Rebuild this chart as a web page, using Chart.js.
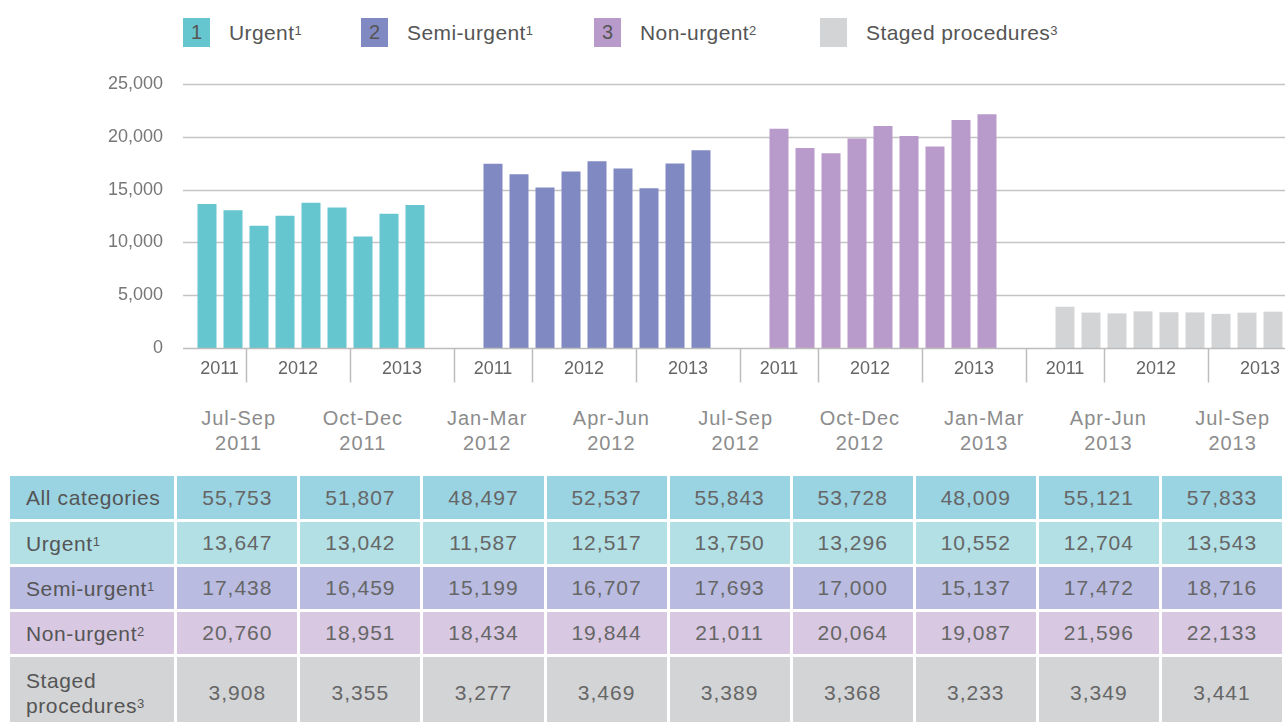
<!DOCTYPE html>
<html>
<head>
<meta charset="utf-8">
<script src="https://cdn.jsdelivr.net/npm/chart.js@4.4.1/dist/chart.umd.min.js"></script>
<style>
  html, body { margin:0; padding:0; background:#fff; overflow:hidden; width:1285px; height:722px; }
  body { font-family:"Liberation Sans", Arial, sans-serif; position:relative; }
  #legend { position:absolute; top:18px; left:0; width:1285px; height:30px; }
  .lg-item { position:absolute; top:0; display:flex; align-items:center; font-size:21px; letter-spacing:0.4px; color:#555; white-space:nowrap; }
  .lg-box { width:27px; height:29px; display:flex; align-items:center; justify-content:center; margin-right:19px; color:#555; font-size:20px; letter-spacing:0; }
  sup { font-size:13px; vertical-align:top; position:relative; top:-2px; letter-spacing:0; }
  #chartWrap { position:absolute; top:0; left:0; width:1312px; height:400px; }
  #quarters { position:absolute; top:406px; left:0; width:1400px; height:60px; }
  .q { position:absolute; width:124px; text-align:center; font-size:20px; letter-spacing:1px; line-height:25px; color:#8c8c8c; }
  #tbl { position:absolute; top:473px; left:7px; border-collapse:separate; border-spacing:3px; table-layout:fixed; }
  #tbl td { font-size:21px; letter-spacing:1px; color:#666; text-align:center; padding:0; }
  #tbl td.lbl { text-align:left; padding-left:16px; color:#555; letter-spacing:0.6px; }
</style>
</head>
<body>
<div id="legend"></div>
<div id="chartWrap"><canvas id="mainChart"></canvas></div>
<div id="quarters"></div>
<table id="tbl"></table>

<script>
// ===== DATA =====
const quarters = ['Jul-Sep 2011','Oct-Dec 2011','Jan-Mar 2012','Apr-Jun 2012','Jul-Sep 2012','Oct-Dec 2012','Jan-Mar 2013','Apr-Jun 2013','Jul-Sep 2013'];
const allCategories = [55753, 51807, 48497, 52537, 55843, 53728, 48009, 55121, 57833];
const urgent    = [13647, 13042, 11587, 12517, 13750, 13296, 10552, 12704, 13543];
const semiUrgent = [17438, 16459, 15199, 16707, 17693, 17000, 15137, 17472, 18716];
const nonUrgent = [20760, 18951, 18434, 19844, 21011, 20064, 19087, 21596, 22133];
const staged    = [3908, 3355, 3277, 3469, 3389, 3368, 3233, 3349, 3441];
const yearSpans = [['2011', 2], ['2012', 4], ['2013', 3]];   // bars per year label
const yTicks = [0, 5000, 10000, 15000, 20000, 25000];

const groups = [
  { num: '1', name: 'Urgent', sup: '1', data: urgent, color: '#66c6cf', row: '#b2e0e5', lx: 183 },
  { num: '2', name: 'Semi-urgent', sup: '1', data: semiUrgent, color: '#8189c2', row: '#b9bbe0', lx: 361 },
  { num: '3', name: 'Non-urgent', sup: '2', data: nonUrgent, color: '#b99bcb', row: '#d8c8e2', lx: 594 },
  { num: '', name: 'Staged procedures', sup: '3', data: staged, color: '#d3d4d6', row: '#d3d4d6', lx: 820 }
];

const fmt = v => v.toLocaleString('en-US');
const SLOTS = quarters.length + 2;  // gap, 9 bars, gap

// ===== LEGEND =====
document.getElementById('legend').innerHTML = groups.map(g => `
  <div class="lg-item" style="left:${g.lx}px"><div class="lg-box" style="background:${g.color}">${g.num}</div>${g.name}<sup>${g.sup}</sup></div>`).join('');

// ===== CHART =====
const labels = [];
groups.forEach(() => { labels.push(''); quarters.forEach(q => labels.push(q)); labels.push(''); });

const datasets = groups.map((g, gi) => {
  const arr = new Array(labels.length).fill(null);
  g.data.forEach((v, i) => { arr[gi * SLOTS + 1 + i] = v; });
  return { label: g.name, data: arr, backgroundColor: g.color, grouped: false,
    categoryPercentage: 1, barPercentage: 19 / 26 };
});

const GRID_START = 15;
const axisPlugin = {
  id: 'axisPlugin',
  beforeDatasetsDraw(chart) {
    const { ctx, chartArea, scales } = chart;
    ctx.save();
    ctx.strokeStyle = '#c4c4c4';
    ctx.lineWidth = 1.5;
    yTicks.forEach(t => {
      if (t === 0) return;
      const y = Math.round(scales.y.getPixelForValue(t)) + 0.5;
      ctx.beginPath(); ctx.moveTo(chartArea.left + GRID_START, y); ctx.lineTo(chartArea.right, y); ctx.stroke();
    });
    ctx.restore();
  },
  afterDatasetsDraw(chart) {
    const { ctx, chartArea, scales } = chart;
    const x = scales.x;
    const slotW = x.getPixelForValue(1) - x.getPixelForValue(0);
    const edge = i => x.getPixelForValue(i) - slotW / 2;
    const y0 = Math.round(scales.y.getPixelForValue(0)) + 0.5;
    ctx.save();
    ctx.strokeStyle = '#bdbdbd';
    ctx.lineWidth = 1.5;
    ctx.beginPath(); ctx.moveTo(chartArea.left + GRID_START, y0); ctx.lineTo(chartArea.right, y0); ctx.stroke();
    ctx.fillStyle = '#666';
    ctx.font = '18px "Liberation Sans", Arial, sans-serif';
    ctx.textAlign = 'center';
    ctx.textBaseline = 'middle';
    groups.forEach((g, gi) => {
      let start = gi * SLOTS;
      yearSpans.forEach(([yr, n], yi) => {
        const from = yi === 0 ? start : start + 1;
        const end = start + 1 + n + (yi === yearSpans.length - 1 ? 1 : 0);
        let l = edge(from), r = edge(end);
        if (gi === 0 && yi === 0) l = chartArea.left + GRID_START + 10;
        ctx.fillText(yr, (l + r) / 2, y0 + 21);
        if (!(gi === 0 && yi === 0)) {
          const sx = Math.round(l) + 0.5;
          ctx.beginPath(); ctx.moveTo(sx, y0); ctx.lineTo(sx, y0 + 34); ctx.stroke();
        }
        start += n;
      });
    });
    ctx.restore();
  }
};

new Chart(document.getElementById('mainChart').getContext('2d'), {
  type: 'bar',
  data: { labels, datasets },
  options: {
    responsive: true, maintainAspectRatio: false, animation: false,
    layout: { padding: { top: 84, bottom: 52, left: 0, right: 0 } },
    plugins: { legend: { display: false }, tooltip: { enabled: false } },
    scales: {
      x: { display: false },
      y: {
        min: 0, max: 25000,
        grid: { display: false, drawTicks: false },
        border: { display: false },
        afterFit: s => { s.width = 168; },
        afterBuildTicks: s => { s.ticks = yTicks.map(v => ({ value: v })); },
        ticks: { padding: 5, color: '#777', font: { family: '"Liberation Sans", Arial, sans-serif', size: 18 },
          callback: v => fmt(v) }
      }
    }
  },
  plugins: [axisPlugin]
});

// ===== QUARTER LABELS + TABLE =====
const COL0 = 165, COLW = 121.25;
document.getElementById('quarters').innerHTML = quarters.map((q, i) => {
  const [m, y] = q.split(' ');
  const left = 10 + COL0 + 3 + i * (COLW + 3) + COLW / 2 - 62;
  return `<div class="q" style="left:${left}px">${m}<br>${y}</div>`;
}).join('');

const rows = [
  { label: 'All categories', sup: '', data: allCategories, bg: '#9ad3e2', h: 43 },
  ...groups.map(g => ({ label: g.name === 'Staged procedures' ? 'Staged<br>procedures' : g.name, sup: g.sup, data: g.data, bg: g.row,
    h: g.name === 'Staged procedures' ? 72 : 42 }))
];
document.getElementById('tbl').innerHTML =
  `<colgroup><col style="width:${COL0}px">${quarters.map(() => `<col style="width:${COLW}px">`).join('')}</colgroup>` +
  rows.map(r => `
    <tr style="height:${r.h}px">
      <td class="lbl" style="background:${r.bg};line-height:25px">${r.label}${r.sup ? `<sup>${r.sup}</sup>` : ''}</td>
      ${r.data.map(v => `<td style="background:${r.bg}">${fmt(v)}</td>`).join('')}
    </tr>`).join('');
</script>
</body>
</html>
